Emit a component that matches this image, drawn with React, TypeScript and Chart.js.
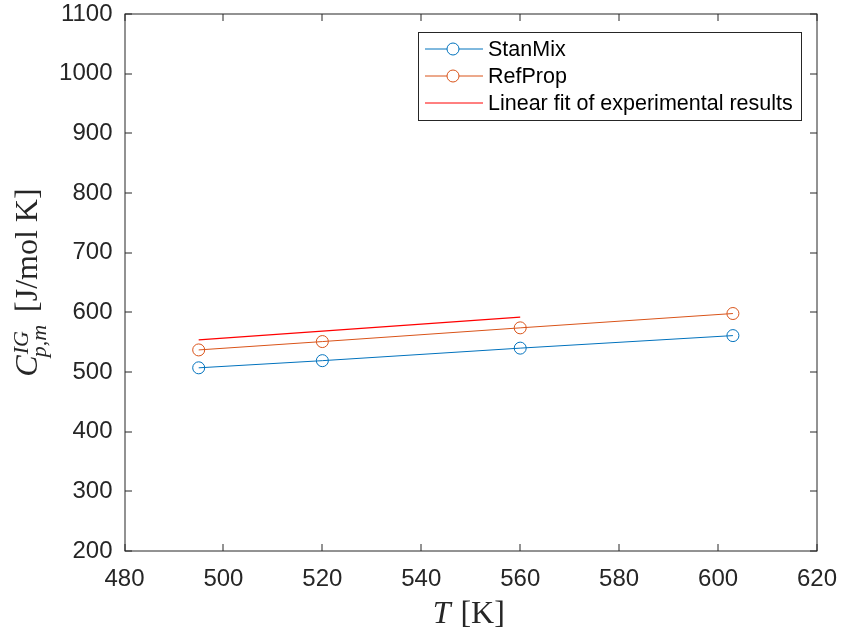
import React, { useEffect, useRef } from "react";
import { Chart, registerables } from "chart.js";

Chart.register(...registerables);

// ---- data ----
const T_MODEL = [495, 520, 560, 603];
const STANMIX = [507, 519, 540, 561];
const REFPROP = [537, 551, 574, 598];
const T_FIT = [495, 560];
const FIT = [554, 592];
const SERIES_NAMES = ["StanMix", "RefProp", "Linear fit of experimental results"];
const X_RANGE = [480, 620];
const X_STEP = 20;
const Y_RANGE = [200, 1100];
const Y_STEP = 100;

const COLORS = ["#0072BD", "#D95319", "#FF0000"];
const AXIS_COLOR = "#262626";
const SANS = "'Liberation Sans', Arial, Helvetica, sans-serif";
const SERIF = "'Liberation Serif', 'Times New Roman', serif";

const decorPlugin = {
  id: "decor",
  afterDraw(chart: any) {
    const ctx = chart.ctx as CanvasRenderingContext2D;
    const ca = chart.chartArea;
    const xs = chart.scales.x;
    const ys = chart.scales.y;
    const L = Math.round(ca.left);
    const R = Math.round(ca.right);
    const T = Math.round(ca.top);
    const B = Math.round(ca.bottom);
    ctx.save();
    // frame
    ctx.strokeStyle = AXIS_COLOR;
    ctx.lineWidth = 1;
    ctx.strokeRect(L, T, R - L, B - T);
    // inward ticks
    const tl = 7;
    ctx.beginPath();
    xs.ticks.forEach((t: any) => {
      const px = Math.round(xs.getPixelForValue(t.value));
      ctx.moveTo(px, B);
      ctx.lineTo(px, B - tl);
      ctx.moveTo(px, T);
      ctx.lineTo(px, T + tl);
    });
    ys.ticks.forEach((t: any) => {
      const py = Math.round(ys.getPixelForValue(t.value));
      ctx.moveTo(L, py);
      ctx.lineTo(L + tl, py);
      ctx.moveTo(R, py);
      ctx.lineTo(R - tl, py);
    });
    ctx.stroke();

    // x axis title: T [K]
    ctx.fillStyle = AXIS_COLOR;
    ctx.textBaseline = "alphabetic";
    ctx.textAlign = "left";
    const cx = (ca.left + ca.right) / 2 - 3;
    ctx.font = `italic 32px ${SERIF}`;
    const wT = ctx.measureText("T").width;
    ctx.font = `32px ${SERIF}`;
    const wK = ctx.measureText(" [K]").width;
    const x0 = cx - (wT + wK) / 2;
    ctx.font = `italic 32px ${SERIF}`;
    ctx.fillText("T", x0, 623);
    ctx.font = `32px ${SERIF}`;
    ctx.fillText(" [K]", x0 + wT + 2, 623);

    // y axis title: C^{IG}_{p,m} [J/mol K]
    const cy = (ca.top + ca.bottom) / 2;
    ctx.save();
    ctx.translate(37, cy);
    ctx.rotate(-Math.PI / 2);
    ctx.font = `italic 32px ${SERIF}`;
    const wC = ctx.measureText("C").width;
    ctx.font = `italic 22px ${SERIF}`;
    const wSup = ctx.measureText("IG").width;
    const wSub = ctx.measureText("p,m").width;
    ctx.font = `32px ${SERIF}`;
    const wUnit = ctx.measureText("[J/mol K]").width;
    const gap = 11;
    const wScript = Math.max(wSup, wSub);
    const total = wC + wScript + gap + wUnit;
    let s = -total / 2;
    ctx.font = `italic 32px ${SERIF}`;
    ctx.fillText("C", s, 0);
    s += wC;
    ctx.font = `italic 22px ${SERIF}`;
    ctx.fillText("IG", s + 1, -9);
    ctx.fillText("p,m", s - 2, 9);
    s += wScript + gap;
    ctx.font = `32px ${SERIF}`;
    ctx.fillText("[J/mol K]", s, 0);
    ctx.restore();

    // legend
    const lx = 418, ly = 32, lw = 383, lh = 88;
    ctx.fillStyle = "#ffffff";
    ctx.fillRect(lx, ly, lw, lh);
    ctx.strokeStyle = AXIS_COLOR;
    ctx.lineWidth = 1;
    ctx.strokeRect(lx + 0.5, ly + 0.5, lw, lh);
    const rows = [49, 76, 103];
    ctx.font = `21.5px ${SANS}`;
    ctx.textBaseline = "middle";
    SERIES_NAMES.forEach((name, i) => {
      const y = rows[i];
      ctx.strokeStyle = COLORS[i];
      ctx.lineWidth = 1;
      ctx.beginPath();
      ctx.moveTo(425, y);
      ctx.lineTo(483, y);
      ctx.stroke();
      if (i < 2) {
        ctx.beginPath();
        ctx.arc(453, y, 6, 0, Math.PI * 2);
        ctx.fillStyle = "#ffffff";
        ctx.fill();
        ctx.stroke();
      }
      ctx.fillStyle = "#000000";
      ctx.fillText(name, 488, y + 1);
    });
    ctx.restore();
  },
};

export default function App() {
  const ref = useRef<HTMLCanvasElement>(null);
  useEffect(() => {
    document.body.style.margin = "0";
    const canvas = ref.current!;
    const chart = new Chart(canvas, {
      type: "line",
      data: {
        datasets: [
          {
            label: SERIES_NAMES[0],
            data: T_MODEL.map((t, i) => ({ x: t, y: STANMIX[i] })),
            borderColor: COLORS[0],
            backgroundColor: "rgba(0,0,0,0)",
            borderWidth: 1,
            pointRadius: 6,
            pointBorderWidth: 1,
            pointBackgroundColor: "rgba(0,0,0,0)",
            pointBorderColor: COLORS[0],
          },
          {
            label: SERIES_NAMES[1],
            data: T_MODEL.map((t, i) => ({ x: t, y: REFPROP[i] })),
            borderColor: COLORS[1],
            backgroundColor: "rgba(0,0,0,0)",
            borderWidth: 1,
            pointRadius: 6,
            pointBorderWidth: 1,
            pointBackgroundColor: "rgba(0,0,0,0)",
            pointBorderColor: COLORS[1],
          },
          {
            label: SERIES_NAMES[2],
            data: T_FIT.map((t, i) => ({ x: t, y: FIT[i] })),
            borderColor: COLORS[2],
            backgroundColor: "rgba(0,0,0,0)",
            borderWidth: 1.2,
            pointRadius: 0,
          },
        ],
      },
      options: {
        animation: false,
        responsive: false,
        maintainAspectRatio: false,
        devicePixelRatio: 1,
        layout: { padding: { left: 0, right: 24, top: 14, bottom: 0 } },
        plugins: { legend: { display: false }, tooltip: { enabled: false } },
        scales: {
          x: {
            type: "linear",
            min: X_RANGE[0],
            max: X_RANGE[1],
            ticks: {
              stepSize: X_STEP,
              color: AXIS_COLOR,
              font: { family: SANS, size: 24 },
              padding: 14,
              maxRotation: 0,
              callback: (v: any) => String(v),
            },
            grid: { display: false, drawTicks: false },
            border: { display: false },
            afterFit: (scale: any) => {
              scale.height = 83;
              scale.paddingLeft = 0;
              scale.paddingRight = 0;
              scale.paddingTop = 0;
              scale.paddingBottom = 0;
            },
          },
          y: {
            type: "linear",
            min: Y_RANGE[0],
            max: Y_RANGE[1],
            ticks: {
              stepSize: Y_STEP,
              color: AXIS_COLOR,
              font: { family: SANS, size: 24 },
              padding: 12,
              callback: (v: any) => String(v),
            },
            grid: { display: false, drawTicks: false },
            border: { display: false },
            afterFit: (scale: any) => {
              scale.width = 124.5;
              scale.paddingLeft = 0;
              scale.paddingRight = 0;
              scale.paddingTop = 0;
              scale.paddingBottom = 0;
            },
          },
        },
      },
      plugins: [decorPlugin],
    });
    return () => chart.destroy();
  }, []);
  return (
    <div style={{ width: 841, height: 634, background: "#fff" }}>
      <canvas ref={ref} width={841} height={634} style={{ display: "block" }} />
    </div>
  );
}
